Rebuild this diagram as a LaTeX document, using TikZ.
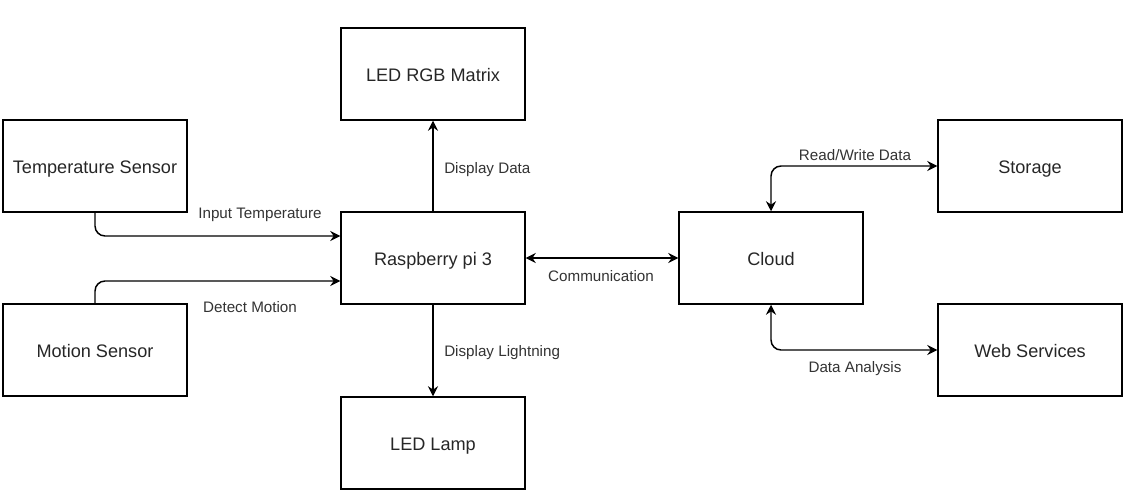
\documentclass[tikz,border=0pt]{standalone}
\usepackage{fontspec}
\setmainfont{Liberation Sans}
\usetikzlibrary{arrows.meta,calc}
\begin{document}
\begin{tikzpicture}[x=0.75pt,y=-0.75pt,
  blk/.style={draw,line width=1.1pt,minimum width=138pt,minimum height=69pt,inner sep=0pt,text height=11pt,text depth=0pt,font=\fontsize{13.6}{15}\selectfont,text=black!85},
  lbl/.style={font=\fontsize{11.4}{13}\selectfont,text=black!80,inner sep=0pt},
  conn/.style={line width=1.1pt,rounded corners=7.5pt,-{Stealth[length=7.5pt,width=7.5pt,inset=2.5pt]}},
  bconn/.style={line width=1.1pt,rounded corners=7.5pt,{Stealth[length=7.5pt,width=7.5pt,inset=2.5pt]}-{Stealth[length=7.5pt,width=7.5pt,inset=2.5pt]}}]
\useasboundingbox (0,0) rectangle (1144,502);
\node[blk] (temp) at (95,166) {Temperature Sensor};
\node[blk] (motion) at (95,350) {Motion Sensor};
\node[blk] (rgb) at (433,74) {LED RGB Matrix};
\node[blk] (rasp) at (433,258) {Raspberry pi 3};
\node[blk] (lamp) at (433,443) {LED Lamp};
\node[blk] (cloud) at (771,258) {Cloud};
\node[blk] (storage) at (1030,166) {Storage};
\node[blk] (web) at (1030,350) {Web Services};
\draw[conn] (temp.south) |- ($(rasp.west)+(0,-22)$);
\draw[conn] (motion.north) |- ($(rasp.west)+(0,23)$);
\draw[conn] (rasp) -- (rgb);
\draw[conn] (rasp) -- (lamp);
\draw[bconn] (rasp.east) -- (cloud.west);
\draw[bconn] (storage.west) -| (cloud.north);
\draw[bconn] (web.west) -| (cloud.south);
\node[lbl] (l1) at (260,215) {Input Temperature};
\node[lbl] (l2) at (250,307) {Detect Motion};
\node[lbl,anchor=west] (l3) at (444,170) {Display Data};
\node[lbl,anchor=west] (l4) at (444,353) {Display Lightning};
\node[lbl] (l5) at (601,276) {Communication};
\node[lbl] (l6) at (855,155) {Read/Write Data};
\node[lbl] (l7) at (855,369) {Data Analysis};
\end{tikzpicture}
\end{document}
